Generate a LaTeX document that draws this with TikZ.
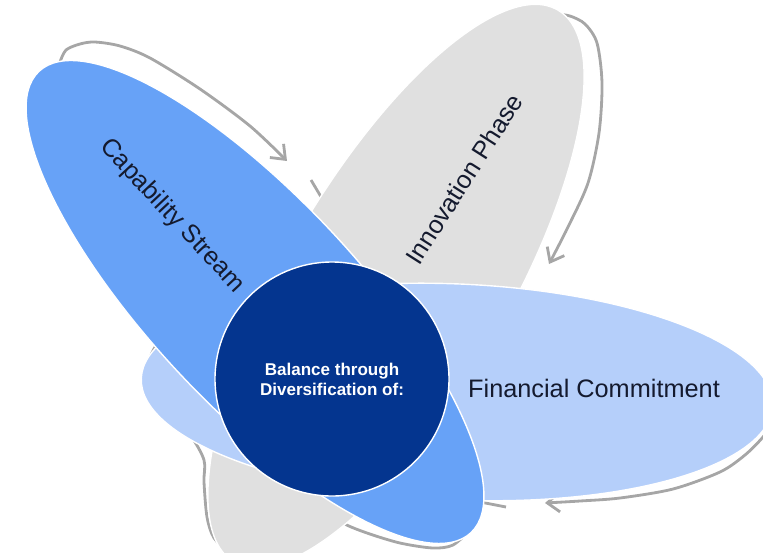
\documentclass[tikz,border=0pt]{standalone}
\usepackage{fontspec}
\setmainfont{Liberation Sans}
\usetikzlibrary{arrows.meta}

\definecolor{petalgray}{HTML}{E0E0E0}
\definecolor{petallight}{HTML}{B5CFFA}
\definecolor{petalmid}{HTML}{67A2F7}
\definecolor{hubblue}{HTML}{04358F}
\definecolor{flowgray}{HTML}{A6A6A6}
\definecolor{labelink}{HTML}{141A2E}

\tikzset{
  petal/.style={fill=#1, draw=white, line width=0.8pt},
  flow/.style={draw=flowgray, line width=1.6pt},
  flowtip/.style={flow, -{Straight Barb[length=7pt,width=11pt]}},
  petallabel/.style={text=labelink, font=\fontsize{14.4}{17}\selectfont},
}

\begin{document}
\begin{tikzpicture}[x=0.02cm, y=-0.02cm]

    % Fix the frame to the size of the original picture (pixel units, y down)
    \useasboundingbox (0,0) rectangle (763,552);

    % Define coordinates for the centres of the three petals and the hub
    \coordinate (I) at (396,286);
    \coordinate (F) at (457,392);
    \coordinate (C) at (255,302);
    \coordinate (H) at (332,379);

    % Draw the flow arrows first, so that the petals hide their ends
    \draw[flowtip] plot[smooth] coordinates {(60,62) (66,50) (80,44) (95,42) (120,46) (150,58) (200,89) (250,126) (287,161)};
    \draw[flowtip] plot[smooth] coordinates {(556,14) (570,16) (585,24) (597,43) (602,83) (599,133) (588,183) (568,227) (549,264)};
    \draw[flowtip] plot[smooth] coordinates {(775,420) (763,437) (745,455) (720,472) (673,489) (620,498) (580,501) (545,503)};

    % Short pieces of the flow that run on under the next petal
    \draw[flow] (311,180) -- (336,222);
    \draw[flow] (470,500) -- (506,507);

    % The flow round the lower ends of the petals
    \draw[flow] plot[smooth] coordinates {(165,332) (151,355) (146,385) (165,410) (190,435) (204,460) (204,482) (207,517) (214,538) (228,550) (245,558)};
    \draw[flow] plot[smooth] coordinates {(325,508) (343,523) (367,533) (400,543) (433,548) (453,545) (470,530)};

    % Draw the three petals, from the back to the front
    \path[petal=petalgray, rotate around={59.6:(I)}] (I) ellipse [x radius=320, y radius=111];
    \path[petal=petallight, rotate around={-2.5:(F)}] (F) ellipse [x radius=316, y radius=108];
    \path[petal=petalmid, rotate around={-46.9:(C)}] (C) ellipse [x radius=316, y radius=104];

    % Draw the hub on top of everything
    \path[petal=hubblue] (H) circle [radius=117];

    % Add the labels of the petals
    \node[petallabel, rotate=-47] (cap) at (172,216) {Capability Stream};
    \node[petallabel, rotate=57.5] (inn) at (464,179) {Innovation Phase};
    \node[petallabel] (fin) at (594,388) {Financial Commitment};

    % Add the text of the hub
    \node[text=white, align=center, font=\bfseries\fontsize{9.7}{11.3}\selectfont] (hub) at (H) {Balance through\\Diversification of:};

\end{tikzpicture}
\end{document}
